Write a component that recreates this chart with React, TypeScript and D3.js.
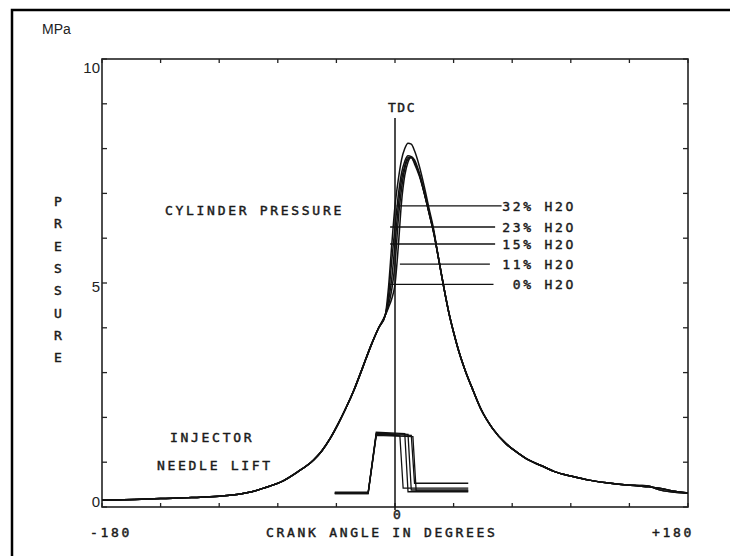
import React from "react";
import * as d3 from "d3";

// ---------- data ----------
const compressionAngle = [-180, -160, -144, -125, -108, -95, -88, -80, -70, -60, -50, -45, -40, -35, -30, -25, -20, -15, -10, -6];
const compressionP = [0.15, 0.17, 0.19, 0.21, 0.24, 0.29, 0.34, 0.43, 0.56, 0.78, 1.05, 1.25, 1.52, 1.85, 2.22, 2.63, 3.1, 3.58, 4.0, 4.28];

const peakAngle = [-4, -2, 0, 2, 4, 6, 8, 10, 12, 15, 18, 21, 24];
const peakP32 = [4.9, 5.85, 6.72, 7.3, 7.75, 8.0, 8.12, 8.1, 7.95, 7.6, 7.15, 6.65, 6.15];
const peakP23 = [4.7, 5.5, 6.25, 6.95, 7.45, 7.72, 7.84, 7.82, 7.7, 7.42, 7.02, 6.58, 6.1];
const peakP15 = [4.6, 5.1, 5.87, 6.7, 7.3, 7.62, 7.8, 7.8, 7.66, 7.38, 7.0, 6.55, 6.08];
const peakP11 = [4.5, 4.85, 5.42, 6.4, 7.1, 7.55, 7.76, 7.8, 7.7, 7.42, 7.0, 6.55, 6.08];
const peakP0 = [4.45, 4.65, 4.97, 5.8, 6.8, 7.4, 7.7, 7.82, 7.75, 7.45, 7.02, 6.56, 6.1];

const expansionAngle = [26, 28, 30, 33, 36, 40, 43, 48, 53, 60, 68, 75, 82, 90, 98, 108, 119, 130, 143, 150, 156, 160, 165, 172, 180];
const expansionP = [5.7, 5.3, 4.9, 4.35, 3.9, 3.38, 3.06, 2.6, 2.17, 1.75, 1.42, 1.22, 1.05, 0.92, 0.79, 0.69, 0.6, 0.54, 0.49, 0.47, 0.45, 0.43, 0.4, 0.35, 0.31];
const exhaustBumpP = [5.7, 5.3, 4.9, 4.35, 3.9, 3.38, 3.06, 2.6, 2.17, 1.75, 1.42, 1.22, 1.05, 0.92, 0.79, 0.69, 0.6, 0.54, 0.49, 0.48, 0.47, 0.41, 0.36, 0.33, 0.31];

const waterLabels = ["32% H2O", "23% H2O", "15% H2O", "11% H2O", "0% H2O"];
const tdcPressure = [6.72, 6.25, 5.87, 5.42, 4.97];

// injector needle lift traces (angle, lift on pressure scale)
const needleAngle = [-37, -16.5, -11.5, 0, 0, 45];
const needleEndA = [3, 6, 8, 10, 11];
const needleBaseLeft = [0.3, 0.33, 0.31, 0.32, 0.3];
const needleTop = [1.62, 1.67, 1.65, 1.63, 1.6];
const needleBaseRight = [0.42, 0.34, 0.38, 0.53, 0.36];

const xTicks = [-180, -144, -108, -72, -36, 0, 36, 72, 108, 144, 180];
const yTicks = [0, 1, 2, 3, 4, 5, 6, 7, 8, 9, 10];
const yTickLabels = [0, 5, 10];
const yTitle = "PRESSURE";

// ---------- layout ----------
const W = 730, H = 556;
const x = d3.scaleLinear().domain([-180, 180]).range([102, 688]);
const y = d3.scaleLinear().domain([0, 10]).range([507, 59]);

const mono = "'DejaVu Sans Mono', monospace";
const sans = "'Liberation Sans', Arial, sans-serif";
const ls = 2.7;
const plot = { fontFamily: mono, fontSize: 13, fill: "#1a1a1a", stroke: "#1a1a1a", strokeWidth: 0.45 };

type Pt = [number, number];
const curve = d3.line<Pt>().x(d => x(d[0])).y(d => y(d[1])).curve(d3.curveMonotoneX);
const straight = d3.line<Pt>().x(d => x(d[0])).y(d => y(d[1]));

const peaks = [peakP32, peakP23, peakP15, peakP11, peakP0];

function pressureSeries(i: number): Pt[] {
  const tail = i >= 3 ? exhaustBumpP : expansionP;
  const pts: Pt[] = [];
  compressionAngle.forEach((a, k) => pts.push([a, compressionP[k]]));
  peakAngle.forEach((a, k) => pts.push([a, peaks[i][k]]));
  expansionAngle.forEach((a, k) => pts.push([a, tail[k]]));
  return pts;
}

function needleSeries(i: number): Pt[] {
  return [
    [needleAngle[0], needleBaseLeft[i]],
    [needleAngle[1], needleBaseLeft[i]],
    [needleAngle[2], needleTop[i]],
    [needleEndA[i], needleTop[i] - 0.03],
    [needleEndA[i] + 2, needleBaseRight[i]],
    [needleAngle[5], needleBaseRight[i]],
  ];
}

const leaderStartA = [1, -3, -3, 3, -4];

export default function App() {
  const plotL = x(-180), plotR = x(180), plotT = y(10), plotB = y(0);
  return (
    <svg width={W} height={H} style={{ position: "absolute", left: 0, top: 0, background: "#fff" }}>
      {/* outer frame */}
      <path d={`M12,${H} L12,10 L${W},10`} fill="none" stroke="#000" strokeWidth={2.5} />

      {/* axes box */}
      <rect x={plotL} y={plotT} width={plotR - plotL} height={plotB - plotT} fill="none" stroke="#222" strokeWidth={1.6} />
      {xTicks.map(t => (
        <g key={"xt" + t}>
          <line x1={x(t)} x2={x(t)} y1={plotB} y2={plotB - 4} stroke="#222" strokeWidth={1.3} />
          <line x1={x(t)} x2={x(t)} y1={plotT} y2={plotT + 4} stroke="#222" strokeWidth={1.3} />
        </g>
      ))}
      {yTicks.map(t => (
        <g key={"yt" + t}>
          <line x1={plotL} x2={plotL + 5} y1={y(t)} y2={y(t)} stroke="#222" strokeWidth={1.3} />
          <line x1={plotR} x2={plotR - 5} y1={y(t)} y2={y(t)} stroke="#222" strokeWidth={1.3} />
        </g>
      ))}

      {/* y tick labels */}
      {yTickLabels.map(t => (
        <text key={"yl" + t} x={plotL - 2} y={y(t) + (t === 10 ? 14 : t === 5 ? 9 : 0)} fontFamily={sans} fontSize={15} textAnchor="end" fill="#222">{t}</text>
      ))}
      <text x={42} y={34} fontFamily={sans} fontSize={14} fill="#222">MPa</text>

      {/* y title, vertical letters */}
      {yTitle.split("").map((c, i) => (
        <text key={"pt" + i} x={58} y={206 + i * 22.3} {...plot} textAnchor="middle">{c}</text>
      ))}

      {/* x labels */}
      <text x={90} y={537} {...plot} letterSpacing={ls}>-180</text>
      <text x={652} y={537} {...plot} letterSpacing={ls}>+180</text>
      <text x={x(0) + 2} y={519} {...plot} textAnchor="middle">0</text>
      <text x={266} y={537} {...plot} letterSpacing={ls}>CRANK ANGLE IN DEGREES</text>

      {/* TDC */}
      <line x1={x(0)} x2={x(0)} y1={118} y2={plotB + 3} stroke="#111" strokeWidth={1.5} />
      <text x={388} y={112} {...plot} letterSpacing={1.5}>TDC</text>

      {/* annotations */}
      <text x={165} y={215} {...plot} letterSpacing={ls}>CYLINDER PRESSURE</text>
      <text x={170} y={442} {...plot} letterSpacing={ls}>INJECTOR</text>
      <text x={157} y={470} {...plot} letterSpacing={ls}>NEEDLE LIFT</text>

      {/* pressure curves */}
      {peaks.map((_, i) => (
        <path key={"pc" + i} d={curve(pressureSeries(i)) || ""} fill="none" stroke="#111" strokeWidth={1.5} />
      ))}

      {/* needle lift */}
      {needleEndA.map((_, i) => (
        <path key={"nl" + i} d={straight(needleSeries(i)) || ""} fill="none" stroke="#111" strokeWidth={1.3} />
      ))}

      {/* legend leaders */}
      {waterLabels.map((lab, i) => (
        <g key={"lg" + i}>
          <line x1={x(leaderStartA[i])} x2={x(leaderStartA[i]) + (i === 3 ? 90 : 105)} y1={y(tdcPressure[i])} y2={y(tdcPressure[i])} stroke="#111" strokeWidth={1.3} />
          <text x={576} y={y(tdcPressure[i]) + 5} {...plot} letterSpacing={ls} textAnchor="end">{lab}</text>
        </g>
      ))}
    </svg>
  );
}
